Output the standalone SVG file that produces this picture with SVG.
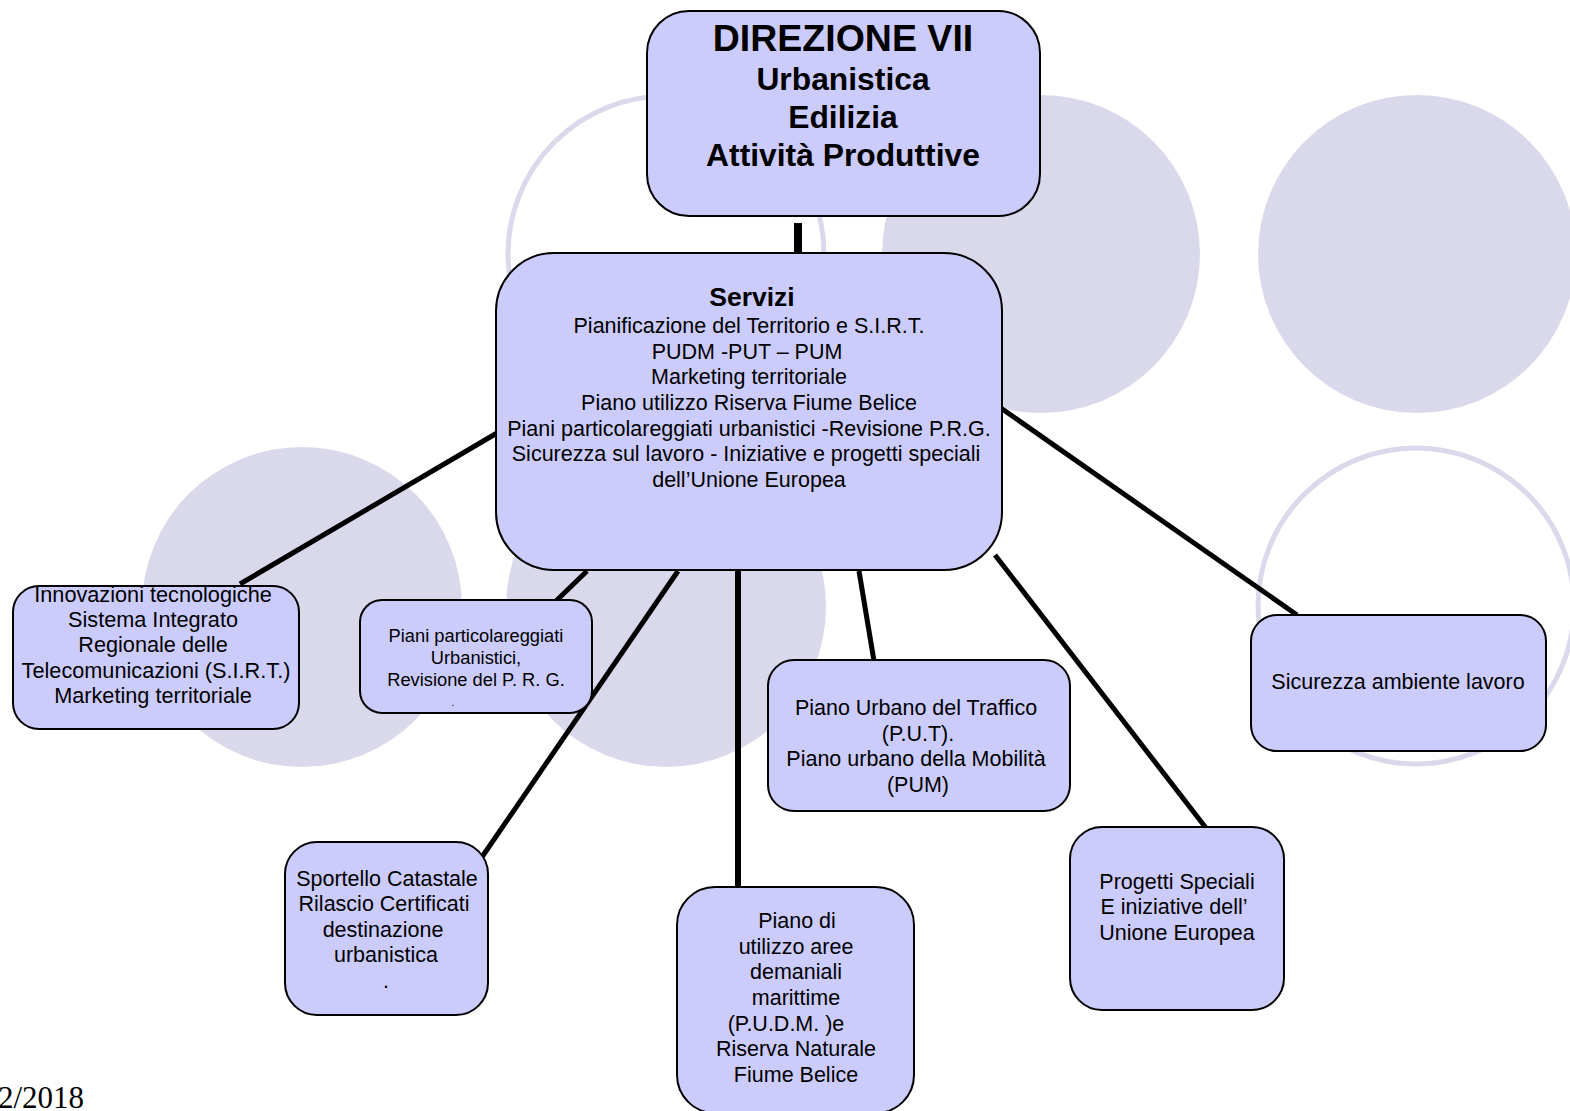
<svg xmlns="http://www.w3.org/2000/svg" width="1570" height="1111" viewBox="0 0 1570 1111">
<style>
.bgf{fill:#dad9ec;stroke:none}
.bgo{fill:none;stroke:#dad9ec;stroke-width:5}
.box{fill:#ccccfc;stroke:#000;stroke-width:2}
.t{font-family:"Liberation Sans",Arial,Helvetica,sans-serif;fill:#000;text-anchor:middle}
.c{stroke:#000;stroke-width:5;fill:none}
</style>
<rect width="1570" height="1111" fill="#fff"/>
<g id="background">
<circle class="bgo" cx="666" cy="254" r="158"/>
<circle class="bgf" cx="1041" cy="254" r="159"/>
<circle class="bgf" cx="1417" cy="254" r="159"/>
<circle class="bgf" cx="302" cy="607" r="160"/>
<circle class="bgf" cx="666" cy="607" r="160"/>
<circle class="bgo" cx="1416" cy="606" r="158"/>
</g>
<g id="connectors">
<line class="c" x1="798" y1="223" x2="798" y2="254" style="stroke-width:8"/>
<line class="c" x1="497" y1="433" x2="240" y2="584"/>
<line class="c" x1="587" y1="571" x2="556" y2="601"/>
<line class="c" x1="678" y1="571" x2="482" y2="857"/>
<line class="c" x1="738" y1="571" x2="738" y2="888" style="stroke-width:6"/>
<line class="c" x1="859" y1="571" x2="874" y2="661"/>
<line class="c" x1="995" y1="555" x2="1206" y2="828"/>
<line class="c" x1="995" y1="404" x2="1297" y2="615"/>
</g>
<g id="direzione">
<rect class="box" x="647" y="11" width="393" height="205" rx="42"/>
<text class="t" x="843" y="51" font-size="37.5" font-weight="bold">DIREZIONE VII</text>
<text class="t" x="843" y="90" font-size="31.8" font-weight="bold">Urbanistica</text>
<text class="t" x="843" y="128" font-size="31.8" font-weight="bold">Edilizia</text>
<text class="t" x="843" y="166" font-size="31.8" font-weight="bold">Attività Produttive</text>
</g>
<g id="servizi">
<rect class="box" x="496" y="253" width="506" height="317" rx="58"/>
<text class="t" x="752" y="306" font-size="26.5" font-weight="bold">Servizi</text>
<g font-size="21.5">
<text class="t" x="749" y="333">Pianificazione del Territorio e S.I.R.T.</text>
<text class="t" x="747" y="359">PUDM -PUT – PUM</text>
<text class="t" x="749" y="384">Marketing territoriale</text>
<text class="t" x="749" y="410">Piano utilizzo Riserva Fiume Belice</text>
<text class="t" x="749" y="436">Piani particolareggiati urbanistici -Revisione P.R.G.</text>
<text class="t" x="746" y="461">Sicurezza sul lavoro - Iniziative e progetti speciali</text>
<text class="t" x="749" y="487">dell’Unione Europea</text>
</g>
</g>
<g id="innovazioni">
<rect class="box" x="13" y="586" width="286" height="143" rx="26"/>
<g font-size="21.7">
<text class="t" x="153" y="602">Innovazioni tecnologiche</text>
<text class="t" x="153" y="627">Sistema Integrato</text>
<text class="t" x="153" y="652">Regionale delle</text>
<text class="t" x="156" y="678">Telecomunicazioni (S.I.R.T.)</text>
<text class="t" x="153" y="703">Marketing territoriale</text>
</g>
</g>
<g id="piani">
<rect class="box" x="360" y="600" width="232" height="113" rx="22"/>
<g font-size="18.3">
<text class="t" x="476" y="642">Piani particolareggiati</text>
<text class="t" x="476" y="664">Urbanistici,</text>
<text class="t" x="476" y="686">Revisione del P. R. G.</text>
<text class="t" x="453" y="706" font-size="10">.</text>
</g>
</g>
<g id="sportello">
<rect class="box" x="285" y="842" width="203" height="173" rx="32"/>
<g font-size="21.5">
<text class="t" x="387" y="886">Sportello Catastale</text>
<text class="t" x="384" y="911">Rilascio Certificati</text>
<text class="t" x="383" y="937">destinazione</text>
<text class="t" x="386" y="962">urbanistica</text>
<text class="t" x="386" y="988">.</text>
</g>
</g>
<g id="pudm">
<rect class="box" x="677" y="887" width="237" height="226" rx="38"/>
<g font-size="21.5">
<text class="t" x="797" y="928">Piano di</text>
<text class="t" x="796" y="954">utilizzo aree</text>
<text class="t" x="796" y="979">demaniali</text>
<text class="t" x="796" y="1005">marittime</text>
<text class="t" x="786" y="1031">(P.U.D.M. )e</text>
<text class="t" x="796" y="1056">Riserva Naturale</text>
<text class="t" x="796" y="1082">Fiume Belice</text>
</g>
</g>
<g id="put">
<rect class="box" x="768" y="660" width="302" height="151" rx="26"/>
<g font-size="21.5">
<text class="t" x="916" y="715">Piano Urbano del Traffico</text>
<text class="t" x="918" y="741">(P.U.T).</text>
<text class="t" x="916" y="766">Piano urbano della Mobilità</text>
<text class="t" x="918" y="792">(PUM)</text>
</g>
</g>
<g id="progetti">
<rect class="box" x="1070" y="827" width="214" height="183" rx="32"/>
<g font-size="21.5">
<text class="t" x="1177" y="889">Progetti Speciali</text>
<text class="t" x="1174" y="914">E iniziative dell’</text>
<text class="t" x="1177" y="940">Unione Europea</text>
</g>
</g>
<g id="sicurezza">
<rect class="box" x="1251" y="615" width="295" height="136" rx="26"/>
<text class="t" x="1398" y="689" font-size="21.5">Sicurezza ambiente lavoro</text>
</g>
<text x="-2" y="1108" font-family="'Liberation Serif','Times New Roman',serif" font-size="31" fill="#000">2/2018</text>
</svg>
